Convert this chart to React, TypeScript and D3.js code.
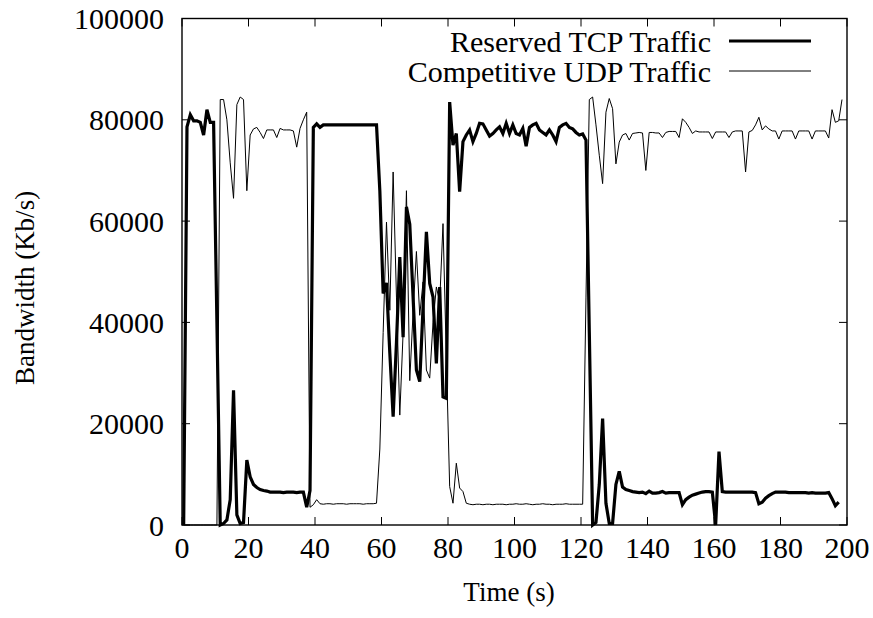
import React from 'react';
import * as d3 from 'd3';

// Samples are taken once per second, each plotted at i + SAMPLE_OFFSET seconds.
const SAMPLE_OFFSET = 0.5;

const seriesNames = ['Reserved TCP Traffic', 'Competitive UDP Traffic'];

const tcpTraffic = [
  0, 78600, 81000, 79800, 79800, 79500, 77000, 82000, 79500, 79500,
  40000, 0, 300, 1000, 5000, 26600, 2000, 300, 500, 12800,
  9500, 8000, 7400, 7000, 6800, 6700, 6500, 6500, 6500, 6500,
  6400, 6500, 6500, 6500, 6400, 6500, 6500, 3500, 6800, 78500,
  79200, 78500, 79000, 79000, 79000, 79000, 79000, 79000, 79000, 79000,
  79000, 79000, 79000, 79000, 79000, 79000, 79000, 79000, 79000, 66000,
  45700, 47800, 34000, 21400, 36000, 52900, 37100, 62800, 59400, 45000,
  30600, 28300, 43000, 57900, 47700, 45000, 31900, 47000, 25300, 25000,
  83500, 75000, 77300, 65800, 75700, 77000, 78000, 75700, 77300, 79300,
  79200, 78000, 76800, 77300, 78000, 78600, 77300, 79300, 77300, 79000,
  77300, 77000, 78300, 74800, 78500, 79000, 79300, 78000, 77500, 77000,
  78000, 77000, 75700, 78500, 79000, 79300, 78500, 78200, 77500, 77000,
  77200, 76000, 38000, 0, 500, 8000, 21000, 4300, 300, 300,
  8000, 10600, 7500, 7000, 6800, 6600, 6500, 6400, 6500, 6200,
  6700, 6300, 6300, 6400, 6600, 6300, 6400, 6400, 6400, 6400,
  4000, 5000, 5500, 5900, 6100, 6300, 6500, 6600, 6600, 6500,
  0, 14500, 6600, 6500, 6500, 6500, 6500, 6500, 6500, 6500,
  6500, 6500, 6400, 4200, 4500, 5300, 5800, 6200, 6500, 6500,
  6500, 6500, 6400, 6400, 6400, 6400, 6400, 6400, 6300, 6400,
  6300, 6300, 6300, 6300, 6400, 5200, 3800, 4500,
];

const udpTraffic = [
  0, 0, 0, 0, 0, 0, 0, 0, 0, 0,
  0, 84000, 84000, 80000, 71500, 64500, 83000, 84500, 84000, 66000,
  77000, 78200, 78500, 77500, 76300, 78000, 78000, 78000, 76500, 78300,
  78000, 78000, 78000, 77800, 74600, 78300, 80000, 81500, 3500, 4000,
  5000, 4200, 4100, 4200, 4200, 4100, 4200, 4200, 4200, 4100,
  4200, 4200, 4200, 4200, 4100, 4200, 4200, 4200, 4300, 15000,
  38000, 59800, 42400, 69700, 45000, 21700, 38000, 66000, 28500, 42000,
  54000, 41400, 48000, 30600, 29000, 40000, 47000, 44000, 59500, 33000,
  7600, 4300, 12200, 7300, 6600, 4300, 4100, 4000, 4100, 4100,
  4000, 4100, 4100, 4000, 4100, 4100, 4100, 4000, 4100, 4100,
  4200, 4100, 4100, 4200, 4100, 4000, 4100, 4100, 4200, 4100,
  4100, 4000, 4100, 4100, 4100, 4200, 4100, 4100, 4100, 4100,
  4100, 45000, 84000, 84500, 79000, 73000, 67400, 81500, 84200, 82200,
  71300, 75600, 77000, 77300, 76000, 77300, 77400, 77500, 77400, 70000,
  77500, 77500, 77400, 77400, 76500, 77500, 77700, 77700, 77700, 76500,
  80200, 79500, 78500, 77300, 77800, 77600, 77600, 77600, 77600, 76300,
  77600, 77600, 77600, 77600, 76500, 77600, 77800, 77800, 77800, 69700,
  77600, 77900, 79000, 80500, 78000, 78800, 78200, 77800, 77800, 76200,
  77800, 77800, 77800, 77800, 76200, 77800, 77800, 77800, 77800, 76200,
  77800, 77800, 77800, 77800, 76400, 82000, 79500, 79800, 84000,
];

const xTicks = [0, 20, 40, 60, 80, 100, 120, 140, 160, 180, 200];
const yTicks = [0, 20000, 40000, 60000, 80000, 100000];

const FONT = '"Liberation Serif", "DejaVu Serif", serif';

export default function App() {
  const W = 873;
  const H = 618;
  const left = 182;
  const right = 847;
  const top = 18.5;
  const bottom = 525;
  const tickLen = 8;
  const fontSize = 30;
  const titleSize = 27;

  const x = d3.scaleLinear().domain([0, 200]).range([left, right]);
  const y = d3.scaleLinear().domain([0, 100000]).range([bottom, top]);

  const line = d3
    .line<number>()
    .x((_, i) => x(i + SAMPLE_OFFSET))
    .y((d) => y(d));

  const tcpPath = line(tcpTraffic) || '';
  const udpPath = line(udpTraffic) || '';

  const legendTextX = 711;
  const legendLineX0 = 729;
  const legendLineX1 = 811;
  const legendRows = [41, 71];

  return (
    <div style={{ position: 'absolute', left: 0, top: 0 }}>
      <svg width={W} height={H} viewBox={`0 0 ${W} ${H}`} style={{ display: 'block', background: '#fff' }}>
        <rect x={0} y={0} width={W} height={H} fill="#fff" />
        {/* ticks */}
        <g stroke="#000" strokeWidth={1}>
          {xTicks.map((t) => (
            <g key={'xt' + t}>
              <line x1={x(t)} x2={x(t)} y1={bottom} y2={bottom - tickLen} />
              <line x1={x(t)} x2={x(t)} y1={top} y2={top + tickLen} />
            </g>
          ))}
          {yTicks.map((t) => (
            <g key={'yt' + t}>
              <line x1={left} x2={left + tickLen} y1={y(t)} y2={y(t)} />
              <line x1={right} x2={right - tickLen} y1={y(t)} y2={y(t)} />
            </g>
          ))}
        </g>
        {/* series */}
        <path d={tcpPath} fill="none" stroke="#000" strokeWidth={3.2} strokeLinejoin="miter" strokeMiterlimit={4} />
        <path d={udpPath} fill="none" stroke="#000" strokeWidth={1} strokeLinejoin="miter" />
        {/* frame */}
        <rect x={left} y={top} width={right - left} height={bottom - top} fill="none" stroke="#000" strokeWidth={1.4} />
        {/* tick labels */}
        <g fontFamily={FONT} fontSize={fontSize} fill="#000">
          {xTicks.map((t) => (
            <text key={'xl' + t} x={x(t)} y={bottom + 33} textAnchor="middle">
              {t}
            </text>
          ))}
          {yTicks.map((t) => (
            <text key={'yl' + t} x={left - 18} y={y(t)} dy="0.35em" textAnchor="end">
              {t}
            </text>
          ))}
          <text x={509} y={bottom + 76} textAnchor="middle" fontSize={titleSize}>
            Time (s)
          </text>
          <text
            transform={`translate(34, 288) rotate(-90)`}
            textAnchor="middle"
            fontSize={titleSize}
          >
            Bandwidth (Kb/s)
          </text>
          {/* legend */}
          {seriesNames.map((name, i) => (
            <g key={name}>
              <text x={legendTextX} y={legendRows[i]} dy="0.35em" textAnchor="end">
                {name}
              </text>
              <line
                x1={legendLineX0}
                x2={legendLineX1}
                y1={legendRows[i]}
                y2={legendRows[i]}
                stroke="#000"
                strokeWidth={i === 0 ? 3.2 : 1}
              />
            </g>
          ))}
        </g>
      </svg>
    </div>
  );
}
